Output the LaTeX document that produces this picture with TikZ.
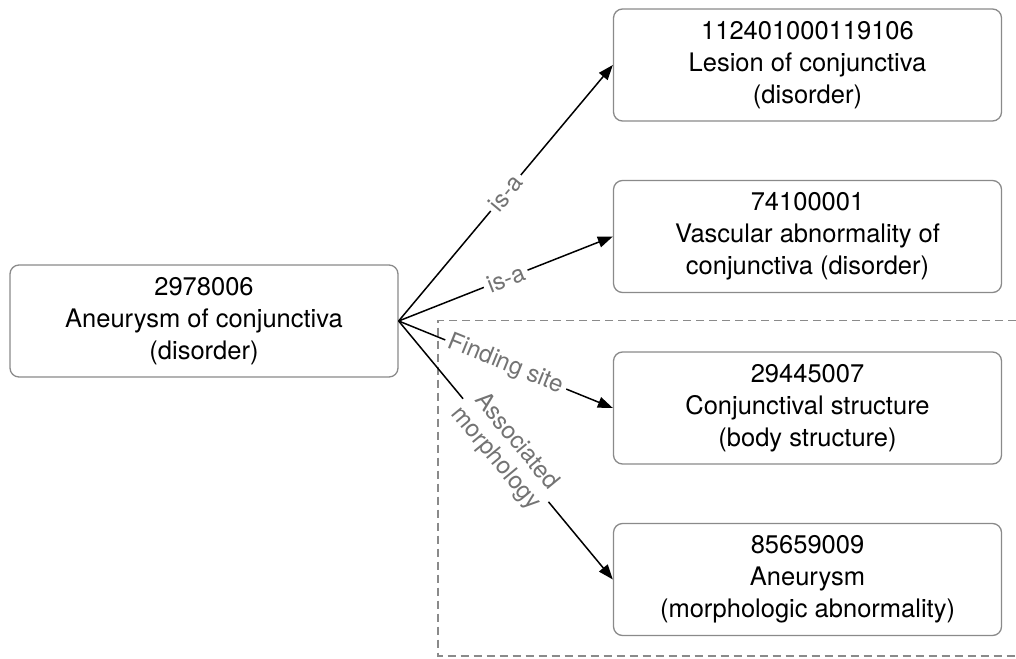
\documentclass[tikz,border=0pt]{standalone}
\usepackage{fontspec}
\setmainfont{TeX Gyre Heros}
\usetikzlibrary{arrows.meta}
\definecolor{boxline}{HTML}{8A8A8A}
\definecolor{labelgray}{HTML}{737373}
\definecolor{dashgray}{HTML}{8A8A8A}
\tikzset{
  concept/.style={draw=boxline, line width=1.3pt, rounded corners=9pt, fill=white,
    minimum width=388pt, minimum height=112pt, align=center, inner sep=0pt,
    font=\fontsize{25.5pt}{32pt}\selectfont},
  rel/.style={line width=1.5pt, black, -{Triangle[length=15pt,width=11pt]}},
  rellabel/.style={midway, sloped, fill=white, inner sep=4pt, text=labelgray,
    align=center, font=\fontsize{24pt}{27pt}\selectfont},
  group/.style={draw=dashgray, line width=1.3pt, dash pattern=on 8pt off 5pt}
}
\begin{document}
\begin{tikzpicture}[x=1pt,y=-1pt]
\useasboundingbox (0,0) rectangle (1016,658);
\coordinate (gtr) at (1016,320.5);
\coordinate (gtl) at (438,320.5);
\coordinate (gbl) at (438,656);
\coordinate (gbr) at (1016,656);
\draw[group] (gtr) -- (gtl) -- (gbl) -- (gbr);
\node[concept] (src) at (204,321) {2978006\\Aneurysm of conjunctiva\\(disorder)};
\node[concept] (lesion) at (807.5,65) {112401000119106\\Lesion of conjunctiva\\(disorder)};
\node[concept] (vasc) at (807.5,236.5) {74100001\\Vascular abnormality of\\conjunctiva (disorder)};
\node[concept] (site) at (807.5,408) {29445007\\Conjunctival structure\\(body structure)};
\node[concept] (morph) at (807.5,579.5) {85659009\\Aneurysm\\(morphologic abnormality)};
\draw[rel] (src.east) -- node[rellabel] {is-a} (lesion.west);
\draw[rel] (src.east) -- node[rellabel] {is-a} (vasc.west);
\draw[rel] (src.east) -- node[rellabel] {Finding site} (site.west);
\draw[rel] (src.east) -- node[rellabel] {Associated\\morphology} (morph.west);
\end{tikzpicture}
\end{document}
